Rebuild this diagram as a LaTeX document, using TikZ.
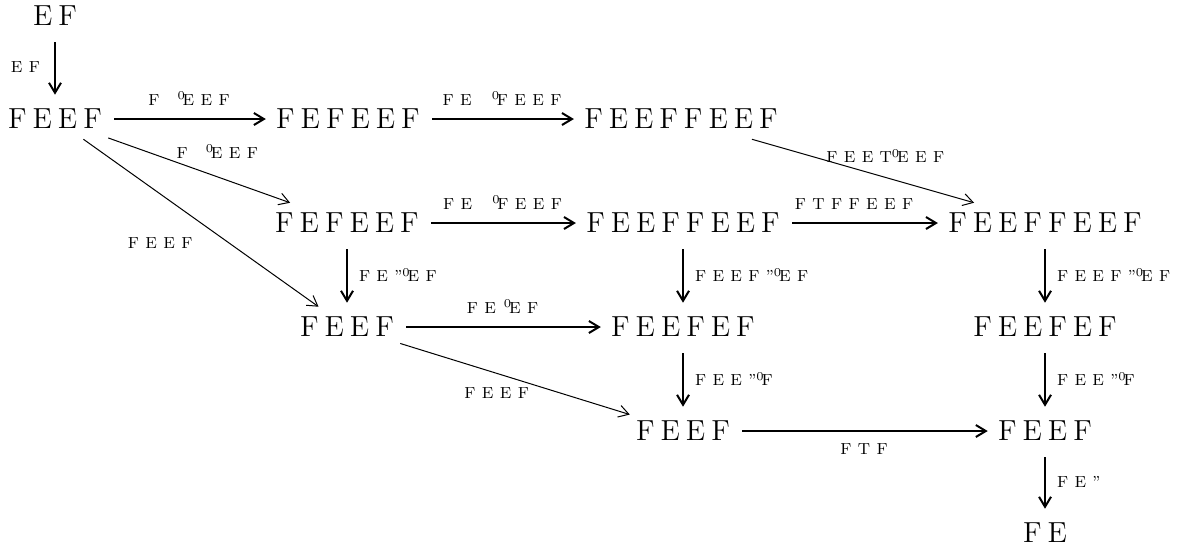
\documentclass[tikz,border=0pt]{standalone}
\usetikzlibrary{arrows.meta}
\newcommand{\zr}{\textsuperscript{0}\kern-1.6pt}
\newcommand{\objfont}{\fontsize{14.5}{16}\selectfont\spaceskip=3pt plus 0pt minus 0pt\relax}
\newcommand{\labfont}{\fontsize{8}{9}\selectfont\spaceskip=3.2pt plus 0pt minus 0pt\relax}
\tikzset{
  obj/.style={font=\objfont, inner xsep=3pt, inner ysep=5pt},
  lab/.style={font=\labfont, inner sep=2pt},
  mor/.style={-{Straight Barb[length=5pt,width=6pt]}, line width=1pt, shorten <=3pt, shorten >=2pt},
  thinmor/.style={-{Straight Barb[length=5pt,width=6pt]}, line width=0.5pt},
}
\begin{document}
\begin{tikzpicture}[x=0.5pt,y=-0.5pt]
\useasboundingbox (0,0) rectangle (1181,548);
\node[obj] (ef) at (55,16) {E F};
\node[obj] (a) at (55,119) {F E E F};
\node[obj] (b) at (348,119) {F E F E E F};
\node[obj] (c) at (681,119) {F E E F F E E F};
\node[obj] (d) at (347,223) {F E F E E F};
\node[obj] (e) at (683,223) {F E E F F E E F};
\node[obj] (f) at (1045,223) {F E E F F E E F};
\node[obj] (g) at (347,327) {F E E F};
\node[obj] (h) at (683,327) {F E E F E F};
\node[obj] (i) at (1045,327) {F E E F E F};
\node[obj] (j) at (683,431) {F E E F};
\node[obj] (k) at (1045,431) {F E E F};
\node[obj] (l) at (1045,533) {F E};

\draw[mor] (ef) -- node[lab, left=5pt] {E F} (a);
\draw[mor] (a) -- node[lab, above=4.5pt] {F\hspace{9pt}\zr E E F} (b);
\draw[mor] (b) -- node[lab, above=4.5pt] {F E\hspace{10pt}\zr F E E F} (c);
\draw[thinmor] (c) -- node[lab, pos=0.6, above=5pt] {F E E T\zr E E F} (f);
\draw[thinmor] (a) -- node[lab, pos=0.6, above=7pt] {F\hspace{9pt}\zr E E F} (d);
\draw[thinmor] (a) -- node[lab, pos=0.5, anchor=north east, xshift=-2pt, yshift=-5pt] {F E E F} (g);
\draw[mor] (d) -- node[lab, above=4.5pt] {F E\hspace{10pt}\zr F E E F} (e);
\draw[mor] (e) -- node[lab, above=4.5pt, xshift=-5pt] {F T F F E E F} (f);
\draw[mor] (d) -- node[lab, right=3.5pt] {F E "\zr E F} (g);
\draw[mor] (e) -- node[lab, right=3.5pt] {F E E F "\zr E F} (h);
\draw[mor] (f) -- node[lab, right=3.5pt] {F E E F "\zr E F} (i);
\draw[mor] (g) -- node[lab, above=4.5pt] {F E\hspace{4pt}\zr E F} (h);
\draw[thinmor] (g) -- node[lab, pos=0.42, below=5pt] {F E E F} (j);
\draw[mor] (h) -- node[lab, right=3.5pt] {F E E "\zr F} (j);
\draw[mor] (i) -- node[lab, right=3.5pt] {F E E "\zr F} (k);
\draw[mor] (j) -- node[lab, below=4pt] {F T F} (k);
\draw[mor] (k) -- node[lab, right=3.5pt] {F E "} (l);
\end{tikzpicture}
\end{document}
